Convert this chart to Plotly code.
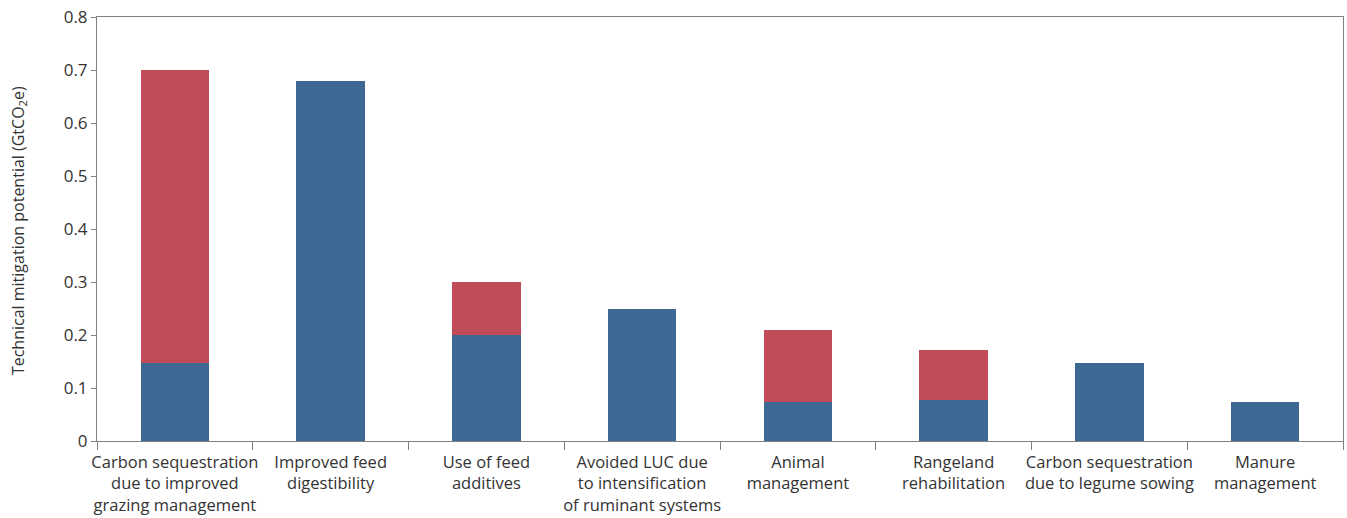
import plotly.graph_objects as go

categories = [
    "Carbon sequestration<br>due to improved<br>grazing management",
    "Improved feed<br>digestibility",
    "Use of feed<br>additives",
    "Avoided LUC due<br>to intensification<br>of ruminant systems",
    "Animal<br>management",
    "Rangeland<br>rehabilitation",
    "Carbon sequestration<br>due to legume sowing",
    "Manure<br>management",
]
blue_values = [0.147, 0.68, 0.20, 0.25, 0.073, 0.078, 0.147, 0.074]
red_values = [0.553, 0.0, 0.10, 0.0, 0.136, 0.093, 0.0, 0.0]
y_ticks = [0, 0.1, 0.2, 0.3, 0.4, 0.5, 0.6, 0.7, 0.8]
y_title = "Technical mitigation potential (GtCO<sub>2</sub>e)"

BLUE = "#3e6894"
RED = "#c24b5a"
AXIS = "#7f7f7f"
TEXT = "#333333"
FONT = "Open Sans"

fig = go.Figure()
fig.add_bar(x=categories, y=blue_values, marker=dict(color=BLUE, line=dict(width=0)),
            width=0.44, showlegend=False)
fig.add_bar(x=categories, y=red_values, marker=dict(color=RED, line=dict(width=0)),
            width=0.44, showlegend=False)

fig.update_layout(
    barmode="stack",
    width=1347, height=518,
    margin=dict(l=97, r=4, t=17, b=77),
    paper_bgcolor="white", plot_bgcolor="white",
    font=dict(family=FONT, color=TEXT, size=16),
)
fig.update_xaxes(
    type="category", tickson="boundaries", ticks="outside", ticklen=8,
    tickcolor=AXIS, showline=True, linecolor=AXIS, linewidth=1, mirror=True,
    showgrid=False, tickangle=0, automargin=False, ticklabelstandoff=6,
    tickfont=dict(size=16.5, color=TEXT),
)
fig.update_yaxes(
    range=[0, 0.8], tickvals=y_ticks, ticktext=[("0" if v == 0 else f"{v:.1f}") for v in y_ticks],
    ticks="outside", ticklen=5, tickcolor=AXIS, showline=True, linecolor=AXIS,
    linewidth=1, mirror=True, showgrid=False, zeroline=False, automargin=False,
    tickfont=dict(size=17, color=TEXT),
)
fig.add_annotation(
    text=y_title, xref="paper", yref="paper", x=-0.0634, y=0.495,
    xanchor="center", yanchor="middle", textangle=-90, showarrow=False,
    font=dict(size=16, color=TEXT),
)

fig.write_html(
    "out.html",
    config={"displayModeBar": False},
    post_script="document.body.style.margin='0';document.body.style.overflow='hidden';",
)
